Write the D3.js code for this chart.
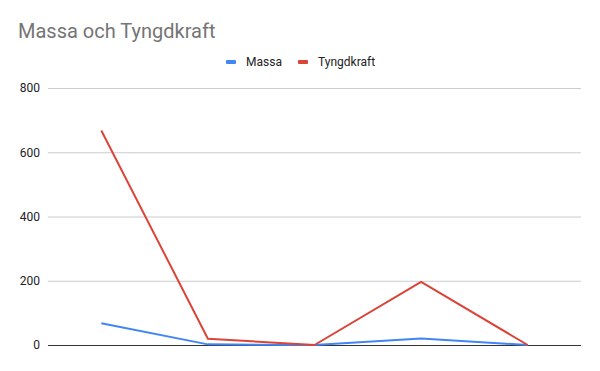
<!DOCTYPE html>
<html><head><meta charset="utf-8">
<script src="https://cdn.jsdelivr.net/npm/d3@7"></script>
<style>body{margin:0;background:#fff;font-family:Roboto,Arial,sans-serif;}</style>
</head><body><svg id="c" width="600" height="371"></svg>
<script>
const categories = ["1","2","3","4","5"];
const massa = [68, 2, 0, 20, 0];
const tyngdkraft = [667.8, 19.6, 0, 196.4, 0];
const yTicks = [0, 200, 400, 600, 800];
const seriesNames = ["Massa", "Tyngdkraft"];
const colors = ["#4285f4", "#db4437"];

const svg = d3.select("#c");
const plotLeft = 48, plotRight = 581, plotTop = 88, plotBottom = 345;
const x = d3.scalePoint().domain(categories).range([plotLeft, plotRight]).padding(0.5);
const y = d3.scaleLinear().domain([0, 800]).range([plotBottom, plotTop]);

svg.append("text").attr("x", 18).attr("y", 38).attr("fill", "#757575")
  .style("font-size", "20px").text("Massa och Tyngdkraft");

// grid
const g = svg.append("g").attr("transform", `translate(${plotLeft},0)`)
  .call(d3.axisLeft(y).tickValues(yTicks).tickSize(-(plotRight-plotLeft)).tickPadding(8));
g.select(".domain").remove();
g.selectAll(".tick line").attr("stroke", d => d === 0 ? "#333" : "#ccc");
g.selectAll(".tick text").attr("fill", "#222").style("font-size", "12px").style("font-family", "Roboto,Arial,sans-serif");

const data = [massa, tyngdkraft];
const line = d3.line().x((d,i) => x(categories[i])).y(d => y(d));
data.forEach((s, k) => {
  svg.append("path").datum(s).attr("d", line).attr("fill", "none")
    .attr("stroke", colors[k]).attr("stroke-width", 2).attr("stroke-linejoin", "round");
});

// legend
const legX = [226, 298];
seriesNames.forEach((n, k) => {
  svg.append("rect").attr("x", legX[k]).attr("y", 60).attr("width", 10).attr("height", 4).attr("fill", colors[k]).attr("rx", 1);
  svg.append("text").attr("x", legX[k] + 20).attr("y", 66).attr("fill", "#222")
    .style("font-size", "12px").text(n);
});
</script></body></html>
